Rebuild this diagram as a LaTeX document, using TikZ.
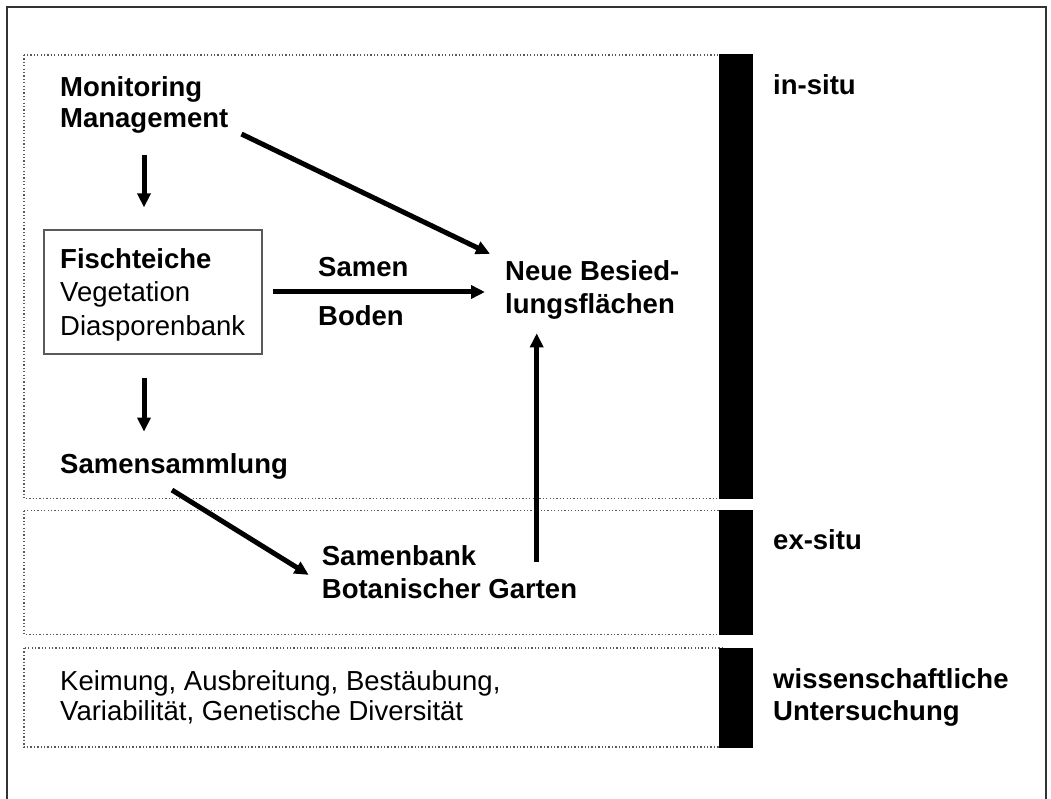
\documentclass[tikz,border=0pt]{standalone}
\usepackage{fontspec}
\setmainfont{Liberation Sans}
\usetikzlibrary{arrows.meta,calc}
\begin{document}
\begin{tikzpicture}[x=1pt,y=-1pt,
  txt/.style={inner sep=0pt, anchor=base west, align=left, font=\fontsize{27.5}{32}\selectfont},
  bld/.style={txt, font=\fontsize{27.5}{32}\selectfont\bfseries},
  arr/.style={line width=5pt, -{Triangle[length=14pt,width=13pt]}},
  dotbox/.style={draw=black!65, line width=1.3pt, dash pattern=on 1.3pt off 2.1pt},
  bar/.style={fill=black, draw=none},
  framebox/.style={draw=black!80, line width=1.3pt},
  pondbox/.style={draw=black!65, line width=1.2pt, minimum width=218pt, minimum height=124pt, inner sep=0pt}]
\useasboundingbox (0,0) rectangle (1051,799);
\fill[white] (0,0) rectangle (1051,799);
% outer frame
\draw[framebox] (7,806) -- (7,7) -- (1046,7) -- (1046,806);
% dotted regions
\draw[dotbox] (24,55) rectangle (725,498.5);
\draw[dotbox] (24,510.5) rectangle (725,634.5);
\draw[dotbox] (24,648) rectangle (725,747);
% black bars
\fill[bar] (719,54) rectangle (752.5,498.5);
\fill[bar] (719,509.5) rectangle (752.5,635);
\fill[bar] (719,647.5) rectangle (752.5,748);
% side labels (multi-line nodes: base = last baseline)
\node[bld] (insitu) at (773,95) {in-situ};
\node[bld] (exsitu) at (773,549.3) {ex-situ};
\node[bld, font=\fontsize{27.5}{31.7}\selectfont\bfseries] (wiss) at (773,720) {wissenschaftliche\\Untersuchung};
% main nodes
\node[bld, font=\fontsize{27.5}{31}\selectfont\bfseries] (mon) at (60,128) {Monitoring\\Management};
\node[pondbox] (box) at (153,292) {};
\node[txt, font=\fontsize{27.5}{33.5}\selectfont] (fisch) at (60,335) {\textbf{Fischteiche}\\Vegetation\\Diasporenbank};
\node[bld] (samml) at (60,473) {Samensammlung};
\node[bld] (samen) at (318,276.7) {Samen};
\node[bld] (boden) at (318,325) {Boden};
\node[bld, font=\fontsize{27.5}{33.3}\selectfont\bfseries] (neue) at (505,313.3) {Neue Besied-\\lungsfl\"achen};
\node[bld, font=\fontsize{27.5}{33}\selectfont\bfseries] (sbank) at (321.7,598) {Samenbank\\Botanischer Garten};
\node[txt, font=\fontsize{27.5}{30}\selectfont] (keim) at (60,720) {Keimung, Ausbreitung, Best\"aubung,\\Variabilit\"at, Genetische Diversit\"at};
% connectors
\coordinate (xa) at (144,0);
\coordinate (xb) at (536.7,0);
\coordinate (upstart) at (536.7,561.7);
\draw[arr] ($(mon.south -| xa)+(0,21)$) -- ($(box.north -| xa)+(0,-22)$);
\draw[arr] ($(box.south -| xa)+(0,23)$) -- ($(box.south -| xa)+(0,77)$);
\draw[arr] ([xshift=13pt]mon.south east) -- ([shift={(-15,-6)}]neue.north west);
\draw[arr] ([xshift=10.7pt]box.east) -- ([xshift=-20pt]box.east -| neue.west);
\draw[arr] ([shift={(112,11)}]samml.south west) -- ([shift={(-13,30)}]sbank.north west);
\draw[arr] (upstart) -- ($(neue.south -| xb)+(0,14)$);
\end{tikzpicture}
\end{document}
